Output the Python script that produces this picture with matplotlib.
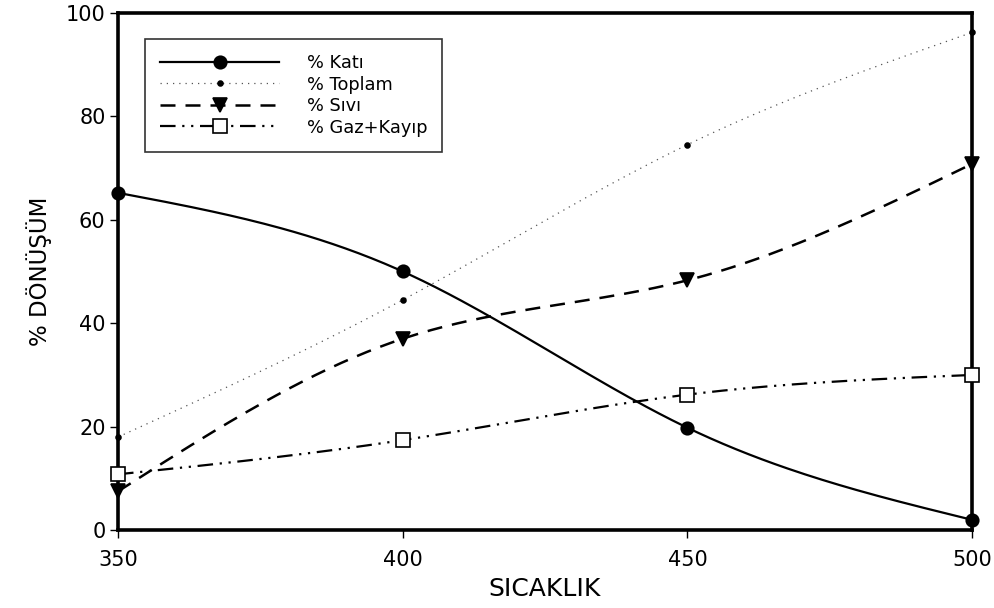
import numpy as np
import matplotlib

matplotlib.use("Agg")
import matplotlib.pyplot as plt
from matplotlib.lines import Line2D

plt.rcParams["font.family"] = ["DejaVu Sans"]

sicaklik = [350, 400, 450, 500]
kati = [65.2, 50.0, 19.8, 2.0]
toplam = [18.0, 44.5, 74.5, 96.2]
sivi = [7.5, 37.0, 48.3, 70.8]
gaz_kayip = [10.8, 17.4, 26.2, 30.0]


def smooth(x, y, n=200):
    """Natural cubic spline through the data points (for drawing only)."""
    x = np.asarray(x, float)
    y = np.asarray(y, float)
    k = len(x)
    h = np.diff(x)
    A = np.zeros((k, k))
    b = np.zeros(k)
    A[0, 0] = A[-1, -1] = 1.0
    for i in range(1, k - 1):
        A[i, i - 1] = h[i - 1]
        A[i, i] = 2 * (h[i - 1] + h[i])
        A[i, i + 1] = h[i]
        b[i] = 6 * ((y[i + 1] - y[i]) / h[i] - (y[i] - y[i - 1]) / h[i - 1])
    m = np.linalg.solve(A, b)
    xs = np.linspace(x[0], x[-1], n)
    idx = np.clip(np.searchsorted(x, xs) - 1, 0, k - 2)
    x0, x1 = x[idx], x[idx + 1]
    hh = x1 - x0
    t0, t1 = x1 - xs, xs - x0
    ys = (m[idx] * t0**3 / (6 * hh) + m[idx + 1] * t1**3 / (6 * hh)
          + (y[idx] / hh - m[idx] * hh / 6) * t0
          + (y[idx + 1] / hh - m[idx + 1] * hh / 6) * t1)
    return xs, ys


fig = plt.figure(figsize=(9.95, 6.08), dpi=100)
ax = fig.add_axes([0.1186, 0.128, 0.8584, 0.851])

series = [
    ("% Katı", kati, dict(ls="-", lw=1.6), dict(marker="o", ms=9, mfc="black")),
    ("% Toplam", toplam, dict(ls=(0, (1, 4)), lw=0.9, color="#555555"),
     dict(marker="o", ms=3.5, mfc="black")),
    ("% Sıvı", sivi, dict(ls=(0, (6, 4)), lw=1.8), dict(marker="v", ms=10, mfc="black")),
    ("% Gaz+Kayıp", gaz_kayip, dict(ls=(0, (7, 3, 1, 3, 1, 3)), lw=1.6),
     dict(marker="s", ms=10, mfc="white")),
]

handles = []
for label, vals, lstyle, mstyle in series:
    xs, ys = smooth(sicaklik, vals)
    ax.plot(xs, ys, color=lstyle.get("color", "black"), ls=lstyle["ls"],
            lw=lstyle["lw"], zorder=2)
    ax.plot(sicaklik, vals, ls="none", color="black", mec="black", mew=1.2,
            zorder=4, clip_on=False, **mstyle)
    handles.append(Line2D([], [], color=lstyle.get("color", "black"), ls=lstyle["ls"],
                          lw=lstyle["lw"], mec="black", mew=1.2, label=label,
                          **mstyle))

ax.set_xlim(350, 500)
ax.set_ylim(0, 100)
ax.set_xticks([350, 400, 450, 500])
ax.set_yticks([0, 20, 40, 60, 80, 100])
ax.tick_params(direction="out", length=6, width=1.0, labelsize=15)
ax.tick_params(axis="x", pad=8)
ax.tick_params(axis="y", pad=3)
for sp in ax.spines.values():
    sp.set_linewidth(2.6)

ax.set_xlabel("SICAKLIK", fontsize=18, labelpad=5)
ax.set_ylabel("% DÖNÜŞÜM", fontsize=16.5, labelpad=10)

leg = ax.legend(handles=handles, loc="upper left", bbox_to_anchor=(0.0316, 0.9496),
                borderaxespad=0, fontsize=12.8, handlelength=6.7, handletextpad=1.55,
                labelspacing=0.2, frameon=True, fancybox=False, borderpad=0.85,
                numpoints=1)
leg.get_frame().set_edgecolor("black")
leg.get_frame().set_linewidth(1.2)

fig.savefig("out.png", dpi=100)
